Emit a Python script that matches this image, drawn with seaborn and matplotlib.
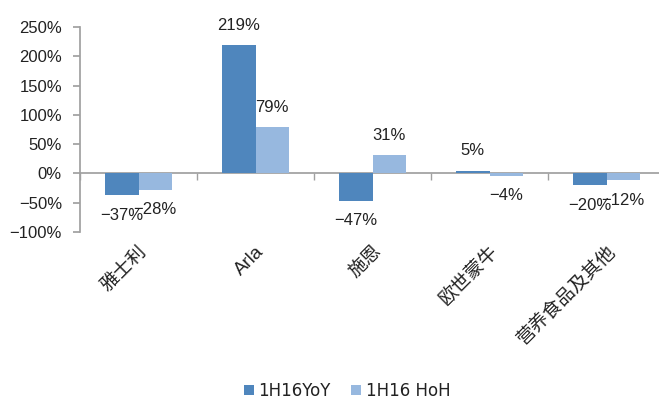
import matplotlib
matplotlib.use("Agg")
import matplotlib.pyplot as plt
import seaborn as sns
import pandas as pd
import numpy as np
from matplotlib.ticker import FuncFormatter, MultipleLocator

categories = ["雅士利", "Arla", "施恩", "欧世蒙牛", "营养食品及其他"]
series_names = ["1H16YoY", "1H16 HoH"]
yoy = [-37, 219, -47, 5, -20]
hoh = [-28, 79, 31, -4, -12]
colors = ["#4F86BD", "#97B8DF"]

sns.set_theme(style="white")
plt.rcParams['font.family'] = ['Liberation Sans', 'Noto Sans CJK SC', 'DejaVu Sans']
plt.rcParams['axes.unicode_minus'] = True

df = pd.DataFrame({
    "category": categories * 2,
    "series": [series_names[0]] * len(categories) + [series_names[1]] * len(categories),
    "value": yoy + hoh,
})

fig = plt.figure(figsize=(6.59, 3.99), dpi=100)
ax = fig.add_axes([80/659, 1 - 232/399, 585/659, 205/399])

sns.barplot(data=df, x="category", y="value", hue="series", order=categories,
            hue_order=series_names, palette=colors, width=0.57, gap=0,
            saturation=1, ax=ax, legend=True, linewidth=0)

for cont in ax.containers:
    for b in cont:
        b.set_zorder(3)
    ax.bar_label(cont, labels=[f"{v:.0f}%".replace("-", "\u2212") for v in cont.datavalues],
                 padding=9, fontsize=12, color="#222222")

ax.set_ylim(-100, 250)
ax.set_xlim(-0.5, len(categories) - 0.5)
ax.yaxis.set_major_locator(MultipleLocator(50))
ax.yaxis.set_major_formatter(FuncFormatter(lambda v, p: f"{v:.0f}%".replace("-", "\u2212")))
ax.set_xlabel("")
ax.set_ylabel("")

for s in ["top", "right"]:
    ax.spines[s].set_visible(False)
ax.spines["left"].set_color("#A0A0A0")
ax.spines["bottom"].set_color("#A0A0A0")
ax.spines["bottom"].set_zorder(2)
ax.spines["bottom"].set_position(("data", 0))

ax.tick_params(axis="y", which="major", left=True, length=5, color="#A0A0A0",
               labelsize=12, labelcolor="#222222", pad=8)
ax.set_xticks(range(len(categories)))
ax.set_xticklabels(categories, rotation=45, ha="right", rotation_mode="anchor",
                   fontsize=13.5, color="#222222")
ax.tick_params(axis="x", which="major", bottom=True, length=0, pad=50)
ax.set_xticks(np.arange(len(categories) + 1) - 0.5, minor=True)
ax.tick_params(axis="x", which="minor", bottom=True, length=5, color="#A0A0A0", direction="out")

leg = ax.legend(loc="center", bbox_to_anchor=(347/659, 1 - 391/399), bbox_transform=fig.transFigure,
                ncol=2, frameon=False, handlelength=0.6, handleheight=0.6,
                handletextpad=0.3, columnspacing=1.2,
                prop={"family": "DejaVu Sans", "size": 12})
for t in leg.get_texts():
    t.set_color("#222222")

fig.savefig("out.png", dpi=100)
